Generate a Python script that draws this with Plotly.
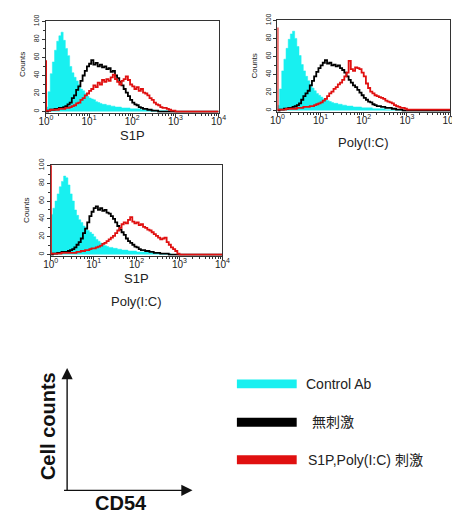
import plotly.graph_objects as go

# ---------------- data ----------------
# histogram bins on log10 fluorescence scale (10^0 .. 10^3, step 0.05 decade)
log_bins = [round(i * 0.05, 2) for i in range(61)]


def pad(v):
    return v + [0] * (len(log_bins) - len(v))


# Panel 1 : S1P
p1_control = pad([5, 22, 42, 55, 68, 78, 84, 88, 79, 70, 62, 50, 43, 38, 34, 30, 25, 23, 20, 17,
                  15, 14, 13, 11, 10, 9, 8, 8, 7, 7, 6, 6, 5, 5, 5, 4, 4, 4, 4, 3,
                  3, 3, 3, 3, 2, 2, 2, 2, 2, 2, 1, 1, 1, 1, 1, 1, 1])
p1_unstim = pad([0, 1, 2, 2, 3, 3, 4, 4, 5, 6, 8, 10, 15, 18, 24, 28, 34, 40, 45, 50,
                 53, 57, 52, 54, 50, 52, 49, 50, 47, 48, 44, 45, 40, 37, 33, 29, 25, 21, 17, 13,
                 10, 8, 7, 5, 4, 3, 3, 2, 2, 1, 1, 1])
p1_stim = pad([1, 1, 2, 2, 2, 2, 3, 3, 3, 4, 4, 5, 6, 7, 9, 10, 13, 15, 18, 20,
               23, 25, 29, 27, 32, 30, 35, 33, 36, 34, 38, 41, 36, 33, 30, 34, 36, 39, 35, 30,
               28, 25, 27, 23, 25, 21, 20, 18, 15, 13, 10, 8, 7, 5, 4, 4, 3, 2, 1, 1])
p1_stim_edge = 57

# Panel 2 : Poly(I:C)
p2_control = pad([6, 24, 44, 57, 69, 79, 85, 88, 80, 71, 61, 51, 44, 38, 33, 29, 25, 22, 19, 17,
                  15, 13, 12, 11, 10, 9, 8, 8, 7, 7, 6, 6, 5, 5, 5, 4, 4, 4, 4, 3,
                  3, 3, 3, 3, 2, 2, 2, 2, 2, 2, 1, 1, 1, 1, 1, 1, 1])
p2_unstim = pad([0, 1, 1, 2, 2, 3, 3, 4, 5, 6, 8, 12, 16, 19, 22, 28, 33, 38, 43, 47,
                 50, 53, 56, 52, 53, 50, 51, 49, 50, 47, 45, 42, 38, 34, 31, 28, 26, 23, 20, 17,
                 14, 12, 10, 9, 7, 6, 5, 5, 4, 4, 3, 3, 3, 2, 2, 1, 1, 1])
p2_stim = pad([1, 1, 1, 1, 2, 2, 2, 2, 2, 3, 3, 3, 4, 4, 4, 5, 5, 6, 7, 8,
               9, 11, 13, 16, 19, 21, 24, 26, 29, 31, 34, 38, 42, 55, 46, 44, 48, 47, 46, 42,
               38, 30, 25, 21, 19, 17, 16, 15, 14, 13, 11, 10, 9, 8, 6, 5, 4, 3, 3, 2, 1])
p2_stim_edge = 92

# Panel 3 : S1P + Poly(I:C)
p3_control = pad([45, 52, 60, 68, 76, 82, 88, 86, 78, 68, 60, 50, 44, 39, 36, 32, 30, 27, 25, 23,
                  20, 17, 15, 13, 11, 10, 9, 8, 8, 7, 7, 6, 6, 5, 5, 5, 4, 4, 4, 4,
                  3, 3, 3, 3, 3, 3, 2, 2, 2, 2, 2, 1, 1, 1, 1, 1])
p3_unstim = pad([0, 1, 1, 2, 2, 3, 3, 3, 4, 5, 6, 8, 11, 14, 18, 24, 29, 36, 43, 48,
                 52, 54, 50, 52, 49, 50, 47, 46, 43, 40, 36, 32, 28, 25, 22, 18, 15, 13, 11, 9,
                 8, 6, 5, 5, 4, 4, 3, 3, 2, 2, 2, 1, 1, 1, 1])
p3_stim = pad([1, 1, 1, 1, 1, 2, 2, 2, 2, 2, 2, 2, 3, 3, 4, 4, 5, 5, 6, 7,
               7, 8, 9, 10, 12, 13, 15, 17, 19, 21, 24, 27, 30, 34, 36, 35, 39, 42, 37, 35,
               36, 33, 34, 31, 30, 28, 27, 25, 23, 21, 19, 17, 18, 19, 14, 11, 8, 6, 4, 1])
p3_stim_edge = 100

panel_titles = [["S1P"], ["Poly(I:C)"], ["S1P", "Poly(I:C)"]]
legend_labels = ["Control Ab", "無刺激", "S1P,Poly(I:C) 刺激"]
y_ticks = [0, 20, 40, 60, 80, 100]
x_ticks = [1, 10, 100, 1000, 10000]
x_ticktext = ["10<sup>0</sup>", "10<sup>1</sup>", "10<sup>2</sup>", "10<sup>3</sup>", "10<sup>4</sup>"]
axis_names = ["Cell counts", "CD54"]

# ---------------- styling / geometry ----------------
OFF = 8                      # default page margin of the html body
W, H = 460 - OFF, 516 - OFF
CYAN, BLACK, RED = "#18f0f0", "#000000", "#e01010"
FONT = "Liberation Sans, Arial, Noto Sans CJK JP, sans-serif"


def px(x):
    return (x - OFF) / W


def py(y):
    return 1 - (y - OFF) / H


panels = [
    dict(data=(p1_control, p1_unstim, p1_stim, p1_stim_edge), box=(39, 218, 14, 107),
         title_y=[130], counts=(15, 58)),
    dict(data=(p2_control, p2_unstim, p2_stim, p2_stim_edge), box=(279, 458, 13, 106),
         title_y=[137], counts=(255, 60)),
    dict(data=(p3_control, p3_unstim, p3_stim, p3_stim_edge), box=(44, 222, 160, 252),
         title_y=[275, 298], counts=(19, 206)),
]

fig = go.Figure()
annotations = []
x_full = [10 ** v for v in log_bins] + [10 ** 4]

minor_vals = [m * 10 ** d for d in range(4) for m in range(2, 10)]

for i, p in enumerate(panels):
    ctrl, unst, stim, edge = p["data"]
    sfx = "" if i == 0 else str(i + 1)
    xa, ya = "x" + sfx, "y" + sfx
    fig.add_trace(go.Scatter(x=x_full, y=ctrl + [0], mode="lines", line=dict(color=CYAN, width=0.5, shape="hv"),
                             fill="tozeroy", fillcolor=CYAN, xaxis=xa, yaxis=ya, showlegend=False))
    fig.add_trace(go.Scatter(x=x_full, y=unst + [0], mode="lines", line=dict(color=BLACK, width=1.8, shape="hv"),
                             xaxis=xa, yaxis=ya, showlegend=False))
    fig.add_trace(go.Scatter(x=x_full, y=stim + [0], mode="lines", line=dict(color=RED, width=1.8, shape="hv"),
                             xaxis=xa, yaxis=ya, showlegend=False))
    fig.add_trace(go.Scatter(x=[1, 1], y=[0, edge], mode="lines", line=dict(color=RED, width=2.2),
                             xaxis=xa, yaxis=ya, showlegend=False, cliponaxis=False))
    x0, x1, y0, y1 = p["box"]
    common = dict(showline=True, linecolor="#333333", linewidth=1, mirror=True, ticks="outside",
                  ticklen=3, tickcolor="#333333", showgrid=False, zeroline=False, layer="below traces")
    fig.update_layout(**{
        "xaxis" + sfx: dict(domain=[px(x0), px(x1)], type="log", range=[0, 4], anchor=ya,
                            tickvals=x_ticks, ticktext=x_ticktext, ticklabelstandoff=-4,
                            tickfont=dict(size=10, family=FONT, color="#222"),
                            minor=dict(tickvals=minor_vals, ticks="outside", ticklen=2, tickcolor="#333333"),
                            **common),
        "yaxis" + sfx: dict(domain=[py(y1), py(y0)], range=[-1.2, 100.5], anchor=xa,
                            tickvals=y_ticks, tickangle=-90,
                            tickfont=dict(size=7, family=FONT, color="#222"),
                            minor=dict(dtick=10, ticks="outside", ticklen=2, tickcolor="#333333"),
                            **common),
    })
    cx = (x0 + x1) / 2
    for t, ty in zip(panel_titles[i], p["title_y"]):
        annotations.append(dict(text=t, x=px(cx), y=py(ty), xref="paper", yref="paper", showarrow=False,
                                font=dict(size=13, family=FONT, color="#222"), xanchor="center", yanchor="middle"))
    annotations.append(dict(text="Counts", x=px(p["counts"][0]), y=py(p["counts"][1]), xref="paper", yref="paper",
                            showarrow=False, textangle=-90, font=dict(size=8, family=FONT, color="#222"),
                            xanchor="center", yanchor="middle"))

# ---------------- schematic axes and legend ----------------
ox, oy = 61, 490
annotations.append(dict(x=px(ox), y=py(366), xref="paper", yref="paper", ax=0, ay=oy - 366,
                        axref="pixel", ayref="pixel", showarrow=True, arrowhead=2, arrowsize=1.6,
                        arrowwidth=1.4, arrowcolor="#111", text=""))
annotations.append(dict(x=px(191), y=py(oy), xref="paper", yref="paper", ax=-(191 - ox), ay=0,
                        axref="pixel", ayref="pixel", showarrow=True, arrowhead=2, arrowsize=1.6,
                        arrowwidth=1.4, arrowcolor="#111", text=""))
annotations.append(dict(text="<b>" + axis_names[0] + "</b>", x=px(41), y=py(425), xref="paper", yref="paper",
                        showarrow=False, textangle=-90, font=dict(size=20, family=FONT, color="#111"),
                        xanchor="center", yanchor="middle"))
annotations.append(dict(text="<b>" + axis_names[1] + "</b>", x=px(117), y=py(503), xref="paper", yref="paper",
                        showarrow=False, font=dict(size=20, family=FONT, color="#111"),
                        xanchor="center", yanchor="middle"))

shapes = []
leg_y = [382, 421, 459]
leg_x_text = [307, 313, 309]
for lab, col, ly, lx in zip(legend_labels, [CYAN, BLACK, RED], leg_y, leg_x_text):
    shapes.append(dict(type="rect", xref="paper", yref="paper", x0=px(237), x1=px(299),
                       y0=py(ly + 4.5), y1=py(ly - 4.5), fillcolor=col, line=dict(width=0)))
    annotations.append(dict(text=lab, x=px(lx), y=py(ly), xref="paper", yref="paper", showarrow=False,
                            font=dict(size=14, family=FONT, color="#222"), xanchor="left", yanchor="middle"))

fig.update_layout(width=W, height=H, margin=dict(l=0, r=0, t=0, b=0),
                  paper_bgcolor="white", plot_bgcolor="white",
                  annotations=annotations, shapes=shapes, showlegend=False)

fig.write_html("out.html")
